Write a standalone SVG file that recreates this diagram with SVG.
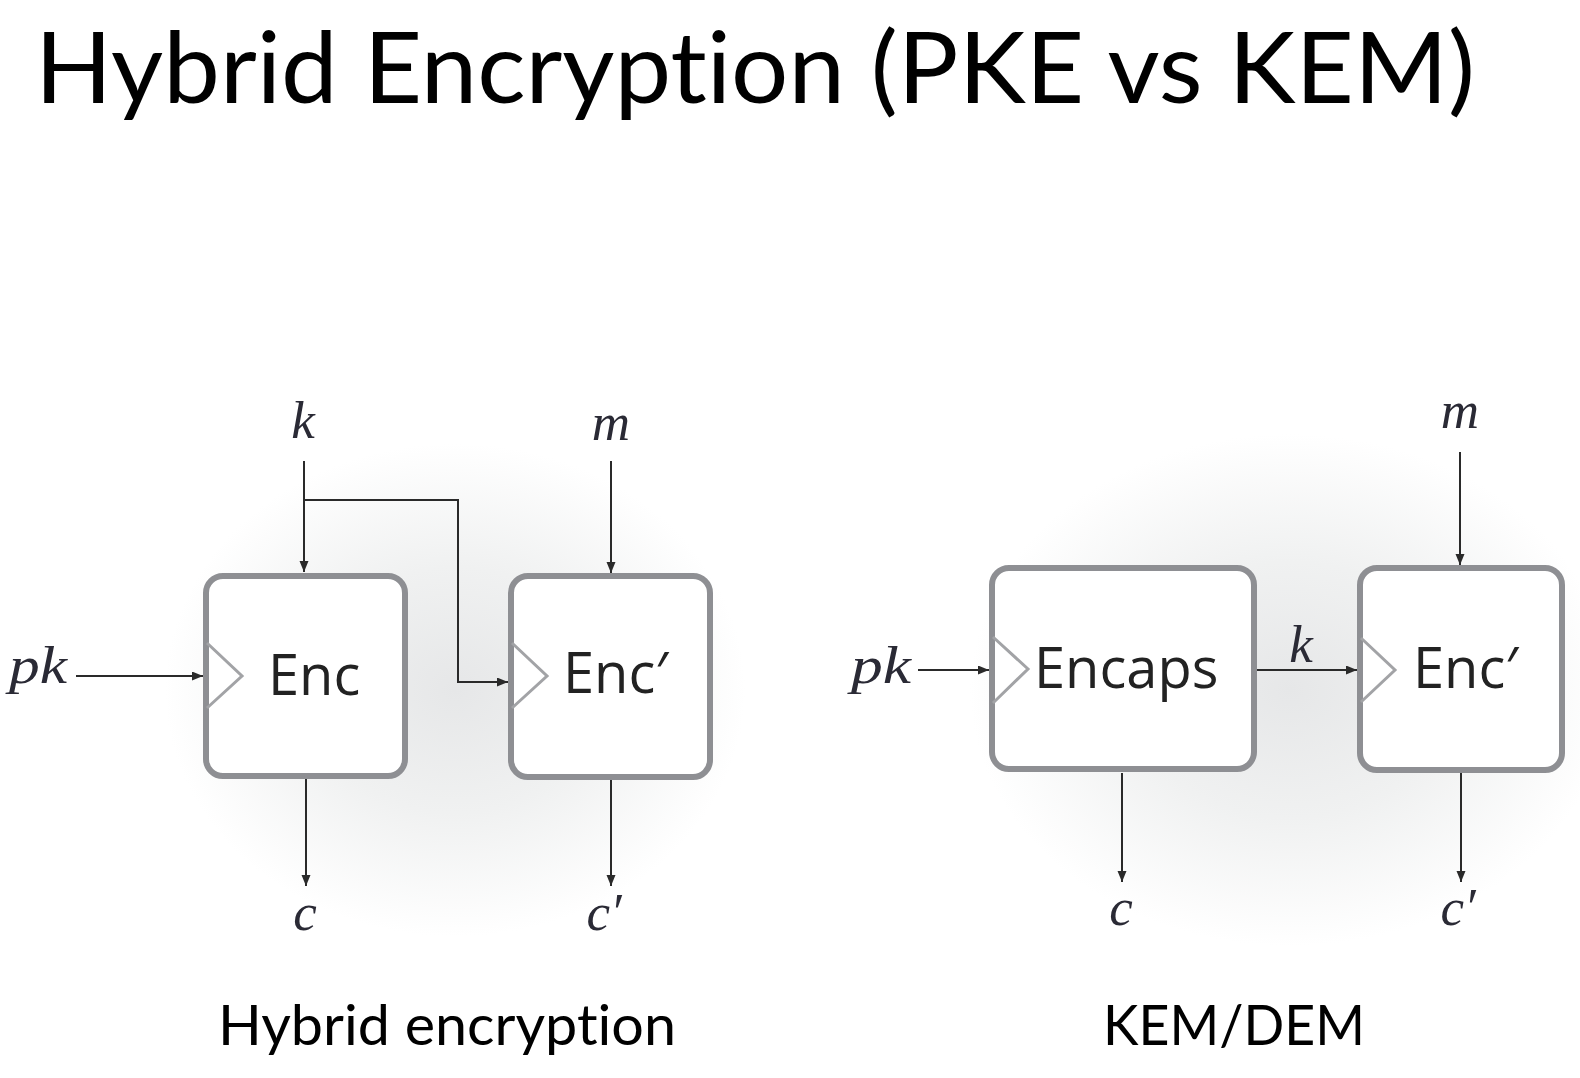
<svg xmlns="http://www.w3.org/2000/svg" width="1580" height="1078" viewBox="0 0 1580 1078">
<defs>
<radialGradient id="glowL" cx="455" cy="690" r="290" gradientUnits="userSpaceOnUse" gradientTransform="translate(455 690) scale(1 0.85) translate(-455 -690)">
<stop offset="0" stop-color="#e6e7e8"/>
<stop offset="0.5" stop-color="#f0f1f1"/>
<stop offset="1" stop-color="#ffffff"/>
</radialGradient>
<radialGradient id="glowR" cx="1290" cy="690" r="320" gradientUnits="userSpaceOnUse" gradientTransform="translate(1290 690) scale(1 0.8) translate(-1290 -690)">
<stop offset="0" stop-color="#e6e7e8"/>
<stop offset="0.5" stop-color="#f0f1f1"/>
<stop offset="1" stop-color="#ffffff"/>
</radialGradient>
<marker id="arr" markerUnits="userSpaceOnUse" markerWidth="12" markerHeight="10" refX="11" refY="4.5" orient="auto">
<path d="M0,0 L11,4.5 L0,9 z" fill="#2a2a2a"/>
</marker>
<style>
text{font-variant-ligatures:none;font-feature-settings:"liga" 0,"clig" 0}
.box{fill:#ffffff;stroke:#8e8f93;stroke-width:6}
.tri{fill:none;stroke:#a2a3a6;stroke-width:3}
.lbl{font-family:"Open Sans","DejaVu Sans",sans-serif;font-size:56px;fill:#222222}
.math{font-family:"Liberation Serif","DejaVu Serif",serif;font-style:italic;font-size:53px;fill:#2a2a35}
.conn{fill:none;stroke:#2a2a2a;stroke-width:2;marker-end:url(#arr)}
.title{font-family:Lato,"Open Sans",sans-serif;font-size:98px;fill:#000000}
.cap{font-family:Lato,"Open Sans",sans-serif;font-size:56px;fill:#000000}
</style>
</defs>
<rect width="1580" height="1078" fill="#ffffff"/>
<ellipse cx="455" cy="690" rx="300" ry="260" fill="url(#glowL)"/>
<ellipse cx="1290" cy="690" rx="330" ry="270" fill="url(#glowR)"/>

<text class="title" x="35" y="103" textLength="1440" lengthAdjust="spacingAndGlyphs">Hybrid Encryption (PKE vs KEM)</text>

<g id="connectors">
<path class="conn" d="M304 461 V572"/>
<path class="conn" d="M304 500 H458 V682 H508"/>
<path class="conn" d="M611 461 V573"/>
<path class="conn" d="M76 676 H203"/>
<path class="conn" d="M306 779 V886"/>
<path class="conn" d="M611 780 V886"/>
<path class="conn" d="M918 670 H989"/>
<path class="conn" d="M1255 670 H1357"/>
<path class="conn" d="M1460 452 V565"/>
<path class="conn" d="M1122 773 V882"/>
<path class="conn" d="M1461 773 V882"/>
</g>

<g id="node-enc">
<rect class="box" x="206" y="576" width="199" height="200" rx="17"/>
<path class="tri" d="M207 643 L242 676 L207 708"/>
<text class="lbl" x="268" y="695">Enc</text>
</g>
<g id="node-enc2-left">
<rect class="box" x="511" y="576" width="199" height="201" rx="17"/>
<path class="tri" d="M512 643 L547 676 L512 708"/>
<text class="lbl" x="563" y="693">Enc′</text>
</g>
<g id="node-encaps">
<rect class="box" x="992" y="568" width="262" height="201" rx="17"/>
<path class="tri" d="M993 637 L1028 669 L993 703"/>
<text class="lbl" x="1034" y="688">Encaps</text>
</g>
<g id="node-enc2-right">
<rect class="box" x="1360" y="568" width="202" height="202" rx="17"/>
<path class="tri" d="M1361 638 L1395 670 L1361 702"/>
<text class="lbl" x="1413" y="688">Enc′</text>
</g>

<g id="labels">
<text class="math" x="303" y="438" text-anchor="middle">k</text>
<text class="math" x="611" y="440" text-anchor="middle">m</text>
<text class="math" x="9" y="683" textLength="58" lengthAdjust="spacingAndGlyphs">pk</text>
<text class="math" x="305" y="930" text-anchor="middle">c</text>
<text class="math" x="604" y="930" text-anchor="middle">c′</text>
<text class="math" x="851" y="683" textLength="60" lengthAdjust="spacingAndGlyphs">pk</text>
<text class="math" x="1301" y="662" text-anchor="middle">k</text>
<text class="math" x="1460" y="428" text-anchor="middle">m</text>
<text class="math" x="1121" y="925" text-anchor="middle">c</text>
<text class="math" x="1458" y="925" text-anchor="middle">c′</text>
</g>

<text class="cap" x="218" y="1045" textLength="458" lengthAdjust="spacingAndGlyphs">Hybrid encryption</text>
<text class="cap" x="1103" y="1045" textLength="262" lengthAdjust="spacingAndGlyphs">KEM/DEM</text>
</svg>
